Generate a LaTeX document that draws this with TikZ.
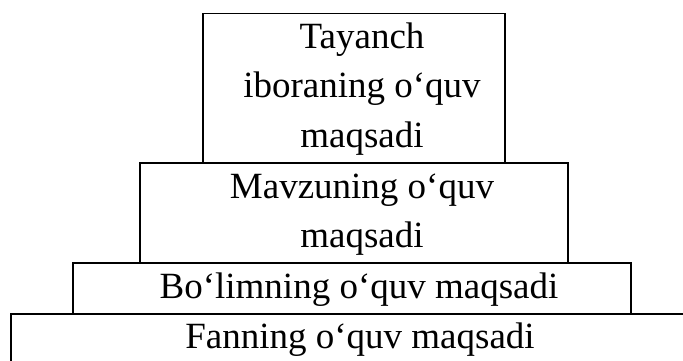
\documentclass[tikz,border=0pt]{standalone}
\usepackage{fontspec}
\setmainfont{Liberation Serif}
\begin{document}
\begin{tikzpicture}[x=1pt,y=-1pt,
  box/.style={draw, line width=1.6pt, anchor=north west, inner sep=0pt},
  lbl/.style={anchor=base, inner sep=0pt, font=\fontsize{37}{44}\selectfont}]
\useasboundingbox (0,0) rectangle (683,360);
\clip (0,0) rectangle (683,360);
\node[box, minimum width=720pt, minimum height=70pt] (b4) at (10,313) {};
\node[box, minimum width=558pt, minimum height=51pt] (b3) at (72,262) {};
\node[box, minimum width=428pt, minimum height=100pt] (b2) at (139,162) {};
\node[box, minimum width=302pt, minimum height=149.3pt] (b1) at (202,12.7) {};
\node[lbl] (t1a) at (362,48) {Tayanch};
\node[lbl] (t1b) at (362,97) {iboraning o‘quv};
\node[lbl] (t1c) at (362,147) {maqsadi};
\node[lbl] (t2a) at (362,198) {Mavzuning o‘quv};
\node[lbl] (t2b) at (362,247) {maqsadi};
\node[lbl] (t3) at (359,298) {Bo‘limning o‘quv maqsadi};
\node[lbl] (t4) at (360,348) {Fanning o‘quv maqsadi};
\end{tikzpicture}
\end{document}
